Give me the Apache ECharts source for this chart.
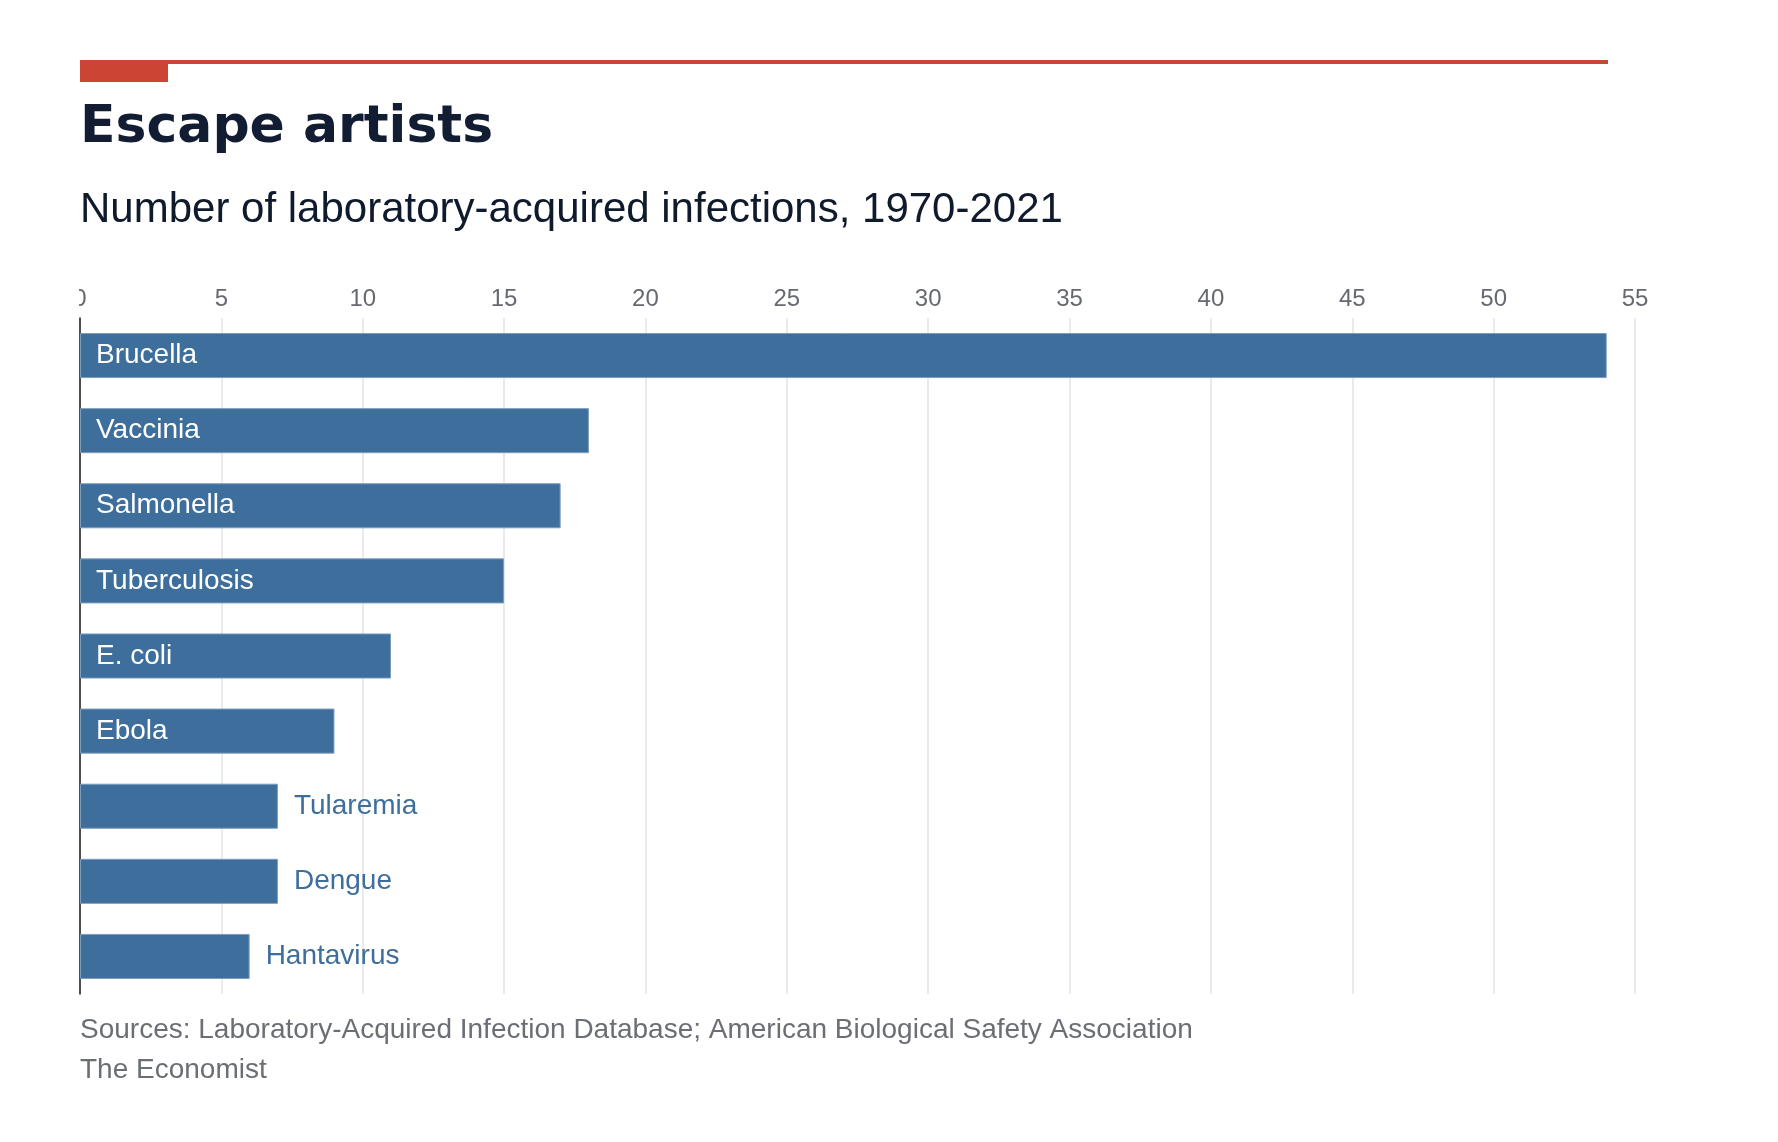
<!DOCTYPE html>
<html lang="en">
<head>
<meta charset="utf-8">
<script src="https://cdn.jsdelivr.net/npm/echarts@6/dist/echarts.min.js"></script>
<style>
  html, body { margin: 0; padding: 0; background: #fff; }
  /* the chart starts on the axis line, so the "0" label is half cut off like the original */
  #chart { position: absolute; left: 79px; top: 0; width: 1699px; height: 1142px; }
</style>
</head>
<body>
<div id="chart"></div>

<script type="text/javascript">
    var diseases = ['Brucella', 'Vaccinia', 'Salmonella', 'Tuberculosis', 'E. coli',
                    'Ebola', 'Tularemia', 'Dengue', 'Hantavirus'];
    var infections = [54, 18, 17, 15, 11, 9, 7, 7, 6];
    var xTicks = [0, 5, 10, 15, 20, 25, 30, 35, 40, 45, 50, 55];

    var barBlue = '#3d6e9c';
    var font = '"Liberation Sans", Arial, sans-serif';

    // short bars carry their name outside, long ones inside
    var barData = infections.map(function (v, i) {
        var inside = v > 8;
        return {
            value: v,
            label: {
                position: inside ? 'insideLeft' : 'right',
                distance: 16,
                color: inside ? '#ffffff' : barBlue
            }
        };
    });

    var myChart = echarts.init(document.getElementById('chart'));

    var option = {
        animation: false,
        backgroundColor: '#ffffff',
        title: [{
            text: 'Escape artists',
            left: 1,
            top: 102,
            padding: 0,
            textStyle: {
                fontFamily: '"DejaVu Sans", sans-serif',
                fontWeight: 'bold',
                fontSize: 52,
                color: '#121c33'
            }
        }, {
            text: 'Number of laboratory-acquired infections, 1970-2021',
            left: 1,
            top: 189,
            padding: 0,
            textStyle: {
                fontFamily: font,
                fontWeight: 'normal',
                fontSize: 42,
                color: '#0f1a2c'
            }
        }, {
            text: 'Sources: Laboratory-Acquired Infection Database; American Biological Safety Association',
            left: 1,
            top: 1016,
            padding: 0,
            textStyle: {
                fontFamily: font,
                fontWeight: 'normal',
                fontSize: 28,
                color: '#6b6f75'
            }
        }, {
            text: 'The Economist',
            left: 1,
            top: 1056,
            padding: 0,
            textStyle: {
                fontFamily: font,
                fontWeight: 'normal',
                fontSize: 28,
                color: '#6b6f75'
            }
        }],
        graphic: [{
            type: 'rect',
            left: 1,
            top: 60,
            shape: { width: 1528, height: 4 },
            style: { fill: '#cc4434' }
        }, {
            type: 'rect',
            left: 1,
            top: 60,
            shape: { width: 88, height: 22 },
            style: { fill: '#cc4434' }
        }],
        grid: {
            left: 1,
            top: 318,
            width: 1555,
            height: 676,
            containLabel: false,
            outerBoundsMode: 'none'
        },
        xAxis: {
            type: 'value',
            position: 'top',
            min: xTicks[0],
            max: xTicks[xTicks.length - 1],
            interval: xTicks[1] - xTicks[0],
            axisLine: { show: false },
            axisTick: { show: false },
            axisLabel: {
                margin: 7,
                fontFamily: font,
                fontSize: 24,
                color: '#666a70',
                showMaxLabel: true,
                showMinLabel: true
            },
            splitLine: {
                show: true,
                lineStyle: { color: '#e3e3e3', width: 1.5 }
            }
        },
        yAxis: {
            type: 'category',
            inverse: true,
            data: diseases,
            axisLine: {
                show: true,
                lineStyle: { color: '#1a1a1a', width: 1.5 }
            },
            axisTick: { show: false },
            axisLabel: { show: false }
        },
        series: [{
            name: 'Infections',
            type: 'bar',
            data: barData,
            barCategoryGap: '40%',
            itemStyle: {
                color: barBlue,
                borderColor: '#7d9dbd',
                borderWidth: 1
            },
            label: {
                show: true,
                formatter: function (p) { return p.name; },
                fontFamily: font,
                fontSize: 28
            }
        }]
    };

    myChart.setOption(option);
</script>
</body>
</html>
